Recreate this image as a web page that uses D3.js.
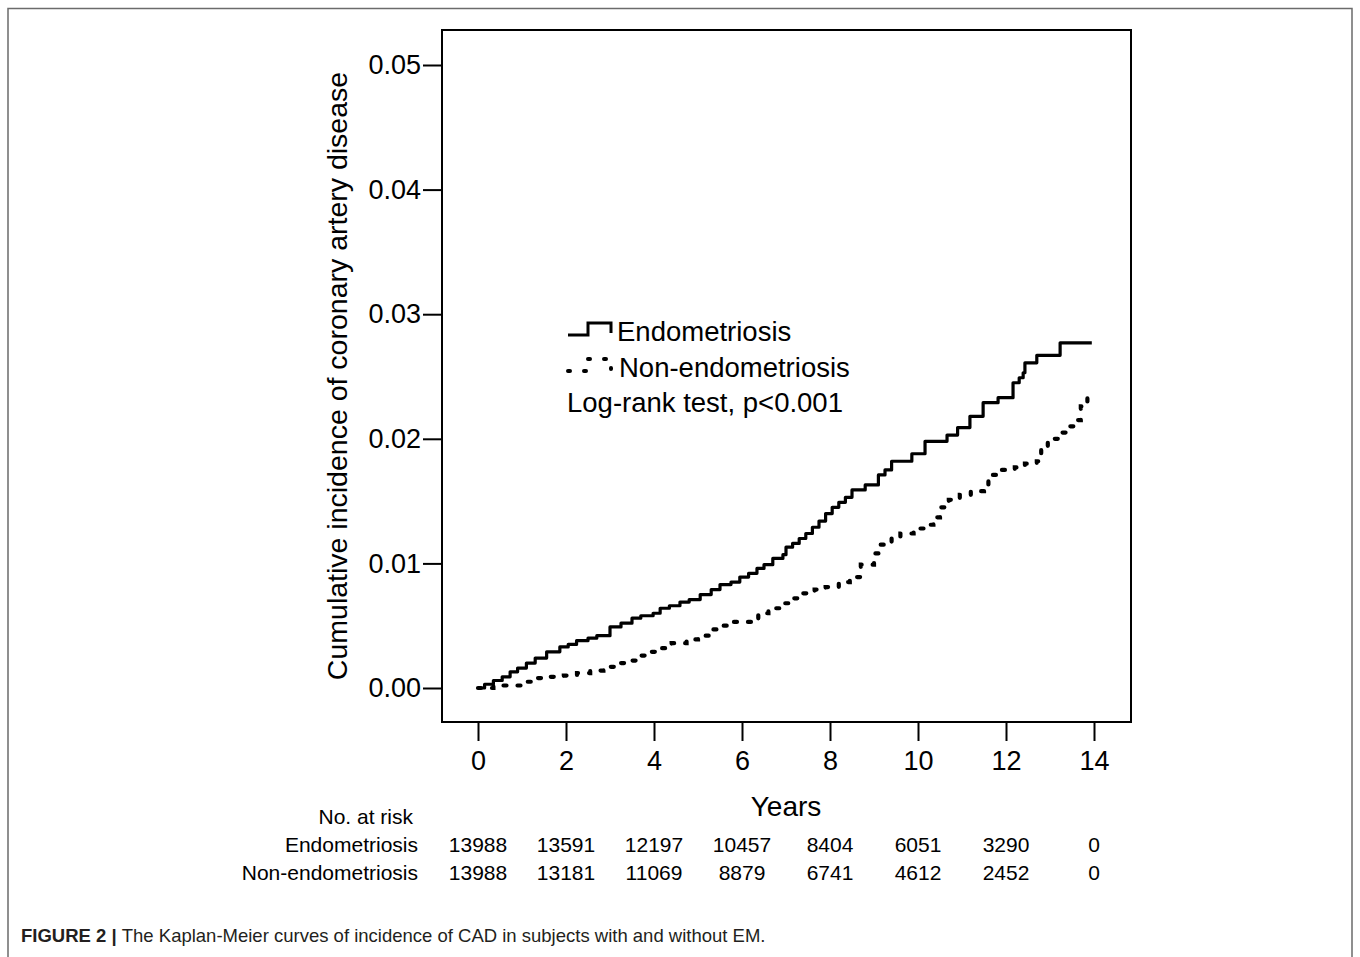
<!DOCTYPE html>
<html>
<head>
<meta charset="utf-8">
<script src="https://cdn.jsdelivr.net/npm/d3@7"></script>
<style>
  body { margin: 0; background: #fff; }
  svg { display: block; font-family: "Liberation Sans", Arial, sans-serif; }
</style>
</head>
<body>
<svg id="km" width="1360" height="957"></svg>
<script>
// years since entry, cumulative incidence
const endoYears = [0, 0.15, 0.35, 0.55, 0.73, 0.9, 1.1, 1.3, 1.56, 1.86, 2.05, 2.24, 2.5, 2.7, 3.0, 3.25, 3.5, 3.7, 3.98, 4.14, 4.35, 4.59, 4.8, 5.05, 5.3, 5.5, 5.75, 5.95, 6.15, 6.34, 6.5, 6.7, 6.93, 7.0, 7.15, 7.3, 7.45, 7.6, 7.75, 7.9, 8.05, 8.2, 8.35, 8.5, 8.8, 9.1, 9.25, 9.4, 9.86, 10.16, 10.66, 10.9, 11.18, 11.48, 11.82, 12.16, 12.3, 12.39, 12.43, 12.7, 13.23, 13.95];
const endoCum = [0, 0.0003, 0.0006, 0.0009, 0.0013, 0.0016, 0.002, 0.0024, 0.0029, 0.0033, 0.0035, 0.0038, 0.004, 0.0042, 0.0049, 0.0052, 0.0056, 0.0058, 0.006, 0.0064, 0.0066, 0.0069, 0.0071, 0.0075, 0.0079, 0.0083, 0.0085, 0.0089, 0.0092, 0.0096, 0.0099, 0.0104, 0.0107, 0.0113, 0.0116, 0.012, 0.0124, 0.0129, 0.0134, 0.014, 0.0145, 0.0149, 0.0153, 0.0159, 0.0163, 0.0171, 0.0175, 0.0182, 0.0188, 0.0198, 0.0203, 0.0209, 0.0218, 0.0229, 0.0233, 0.0245, 0.0249, 0.0253, 0.0261, 0.0267, 0.0277, 0.0277];

const nonYears = [0, 0.35, 0.68, 1.0, 1.3, 1.6, 1.95, 2.25, 2.55, 2.85, 3.15, 3.4, 3.64, 3.95, 4.14, 4.4, 4.74, 5.0, 5.27, 5.55, 5.8, 6.18, 6.37, 6.6, 6.86, 7.1, 7.39, 7.65, 7.9, 8.2, 8.45, 8.7, 9.0, 9.14, 9.4, 9.6, 9.9, 10.2, 10.35, 10.5, 10.7, 10.95, 11.2, 11.5, 11.6, 11.86, 12.2, 12.43, 12.7, 12.8, 12.95, 13.2, 13.4, 13.6, 13.7, 13.85, 13.9];
const nonCum = [0, 0.0002, 0.0002, 0.0005, 0.0008, 0.0009, 0.001, 0.0012, 0.0014, 0.0017, 0.002, 0.0022, 0.0026, 0.0029, 0.0032, 0.0036, 0.0039, 0.0042, 0.0047, 0.005, 0.0053, 0.0053, 0.006, 0.0064, 0.0068, 0.0072, 0.0076, 0.0079, 0.0081, 0.0085, 0.0089, 0.0099, 0.0108, 0.0115, 0.012, 0.0124, 0.0128, 0.0131, 0.0137, 0.0145, 0.0151, 0.0155, 0.0158, 0.0161, 0.0171, 0.0175, 0.0177, 0.018, 0.0182, 0.0193, 0.02, 0.0205, 0.021, 0.0215, 0.0226, 0.0234, 0.0234];

const xTicks = [0, 2, 4, 6, 8, 10, 12, 14];
const yTicks = [0, 0.01, 0.02, 0.03, 0.04, 0.05];

const riskGroups = ["Endometriosis", "Non-endometriosis"];
const riskEndo = [13988, 13591, 12197, 10457, 8404, 6051, 3290, 0];
const riskNon = [13988, 13181, 11069, 8879, 6741, 4612, 2452, 0];

const svg = d3.select("#km");

const box = { left: 442, right: 1131, top: 30, bottom: 722 };

const x = d3.scaleLinear().domain([0, 14]).range([478, 1094]);
const y = d3.scaleLinear().domain([0, 0.05]).range([688, 65]);

// outer figure frame
svg.append("path")
  .attr("d", "M8,960 V8.5 H1352 V960")
  .attr("fill", "none")
  .attr("stroke", "#6b6b6b")
  .attr("stroke-width", 1.5);

// plot frame
svg.append("rect")
  .attr("x", box.left)
  .attr("y", box.top)
  .attr("width", box.right - box.left)
  .attr("height", box.bottom - box.top)
  .attr("fill", "none")
  .attr("stroke", "#000")
  .attr("stroke-width", 2);

const yAxis = g =>
  g.attr("transform", `translate(${box.left},0)`)
    .call(d3.axisLeft(y).tickValues(yTicks).tickFormat(d3.format(".2f")).tickSize(19).tickPadding(2))
    .call(g => g.select(".domain").remove())
    .call(g => g.selectAll("line").attr("stroke-width", 2))
    .call(g => g.selectAll("text").attr("font-size", 27).attr("font-family", "Liberation Sans, Arial").attr("fill", "#000"));

const xAxis = g =>
  g.attr("transform", `translate(0,${box.bottom})`)
    .call(d3.axisBottom(x).tickValues(xTicks).tickSize(19).tickPadding(10))
    .call(g => g.select(".domain").remove())
    .call(g => g.selectAll("line").attr("stroke-width", 2))
    .call(g => g.selectAll("text").attr("font-size", 27).attr("font-family", "Liberation Sans, Arial").attr("fill", "#000"));

svg.append("g").call(yAxis);
svg.append("g").call(xAxis);

svg.append("text")
  .attr("transform", "translate(347,376) rotate(-90)")
  .attr("text-anchor", "middle")
  .attr("font-size", 28.5)
  .text("Cumulative incidence of coronary artery disease");

svg.append("text")
  .attr("x", 786)
  .attr("y", 816)
  .attr("text-anchor", "middle")
  .attr("font-size", 28)
  .text("Years");

const line = d3.line()
  .x(d => x(d[0]))
  .y(d => y(d[1]))
  .curve(d3.curveStepAfter);

svg.append("path")
  .datum(d3.zip(endoYears, endoCum))
  .attr("d", line)
  .attr("fill", "none")
  .attr("stroke", "#000")
  .attr("stroke-width", 3.2)
  .attr("stroke-linejoin", "round");

svg.append("path")
  .datum(d3.zip(nonYears, nonCum))
  .attr("d", line)
  .attr("fill", "none")
  .attr("stroke", "#000")
  .attr("stroke-width", 4.2)
  .attr("stroke-linecap", "round")
  .attr("stroke-dasharray", "3,11");

// legend
const legendKey = (y0, dashed) =>
  svg.append("path")
    .attr("d", `M568,${y0} H588 V${y0 - 12} H611 V${y0 - 2}`)
    .attr("fill", "none")
    .attr("stroke", "#000")
    .attr("stroke-width", dashed ? 4 : 3)
    .attr("stroke-linecap", dashed ? "round" : "butt")
    .attr("stroke-dasharray", dashed ? "2,14" : null);

legendKey(335, false);
legendKey(371, true);

svg.append("text").attr("x", 617).attr("y", 341).attr("font-size", 27.5).text(riskGroups[0]);
svg.append("text").attr("x", 619).attr("y", 377).attr("font-size", 27.5).text(riskGroups[1]);
svg.append("text").attr("x", 567).attr("y", 412).attr("font-size", 27.5).text("Log-rank test, p<0.001");

// number at risk table
const risk = svg.append("g").attr("font-size", 21);

risk.append("text")
  .attr("x", 413)
  .attr("y", 824)
  .attr("text-anchor", "end")
  .text("No. at risk");

[riskEndo, riskNon].forEach((row, i) => {
  const yy = 852 + i * 28;
  risk.append("text")
    .attr("x", 418)
    .attr("y", yy)
    .attr("text-anchor", "end")
    .text(riskGroups[i]);
  risk.selectAll(null)
    .data(row)
    .join("text")
    .attr("x", (d, j) => x(xTicks[j]))
    .attr("y", yy)
    .attr("text-anchor", "middle")
    .text(d => d);
});

// caption
const cap = svg.append("text")
  .attr("x", 21)
  .attr("y", 942)
  .attr("font-size", 18.5)
  .attr("fill", "#231f20");
cap.append("tspan").attr("font-weight", "bold").text("FIGURE 2 | ");
cap.append("tspan").text("The Kaplan-Meier curves of incidence of CAD in subjects with and without EM.");
</script>
</body>
</html>
